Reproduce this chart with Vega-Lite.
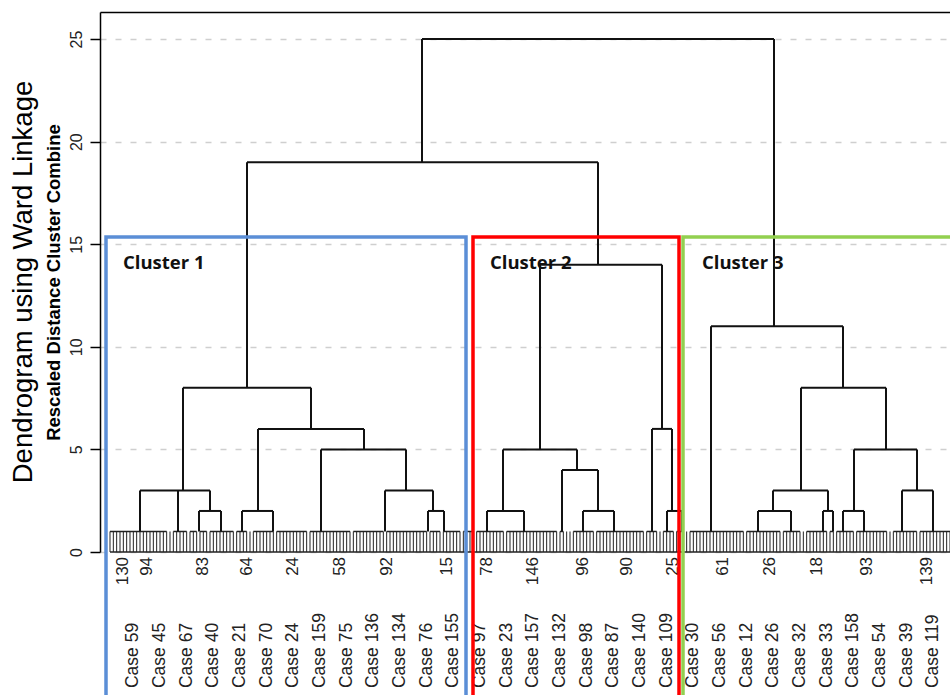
{
  "$schema": "https://vega.github.io/schema/vega-lite/v6.json",
  "autosize": "none",
  "padding": {"left": 100, "top": 12, "right": 0, "bottom": 143},
  "width": 850,
  "height": 540,
  "background": "white",
  "config": {"view": {"stroke": null}},
  "title": {"text": "Dendrogram using Ward Linkage", "orient": "left", "anchor": "middle", "font": "Liberation Sans", "fontSize": 27.5, "fontWeight": "normal", "color": "black", "offset": 7},
  "datasets": {
    "leaves": [{"x":0},{"x":1},{"x":2},{"x":3},{"x":4},{"x":5},{"x":6},{"x":7},{"x":8},{"x":9},{"x":10},{"x":11},{"x":12},{"x":13},{"x":14},{"x":15},{"x":16},{"x":17},{"x":18},{"x":19},{"x":20},{"x":21},{"x":22},{"x":23},{"x":24},{"x":25},{"x":26},{"x":27},{"x":28},{"x":29},{"x":30},{"x":31},{"x":32},{"x":33},{"x":34},{"x":35},{"x":36},{"x":37},{"x":38},{"x":39},{"x":40},{"x":41},{"x":42},{"x":43},{"x":44},{"x":45},{"x":46},{"x":47},{"x":48},{"x":49},{"x":50},{"x":51},{"x":52},{"x":53},{"x":54},{"x":55},{"x":56},{"x":57},{"x":58},{"x":59},{"x":60},{"x":61},{"x":62},{"x":63},{"x":64},{"x":65},{"x":66},{"x":67},{"x":68},{"x":69},{"x":70},{"x":71},{"x":72},{"x":73},{"x":74},{"x":75},{"x":76},{"x":77},{"x":78},{"x":79},{"x":80},{"x":81},{"x":82},{"x":83},{"x":84},{"x":85},{"x":86},{"x":87},{"x":88},{"x":89},{"x":90},{"x":91},{"x":92},{"x":93},{"x":94},{"x":95},{"x":96},{"x":97},{"x":98},{"x":99},{"x":100},{"x":101},{"x":102},{"x":103},{"x":104},{"x":105},{"x":106},{"x":107},{"x":108},{"x":109},{"x":110},{"x":111},{"x":112},{"x":113},{"x":114},{"x":115},{"x":116},{"x":117},{"x":118},{"x":119},{"x":120},{"x":121},{"x":122},{"x":123},{"x":124},{"x":125},{"x":126},{"x":127},{"x":128},{"x":129},{"x":130},{"x":131},{"x":132},{"x":133},{"x":134},{"x":135},{"x":136},{"x":137},{"x":138},{"x":139},{"x":140},{"x":141},{"x":142},{"x":143},{"x":144},{"x":145},{"x":146},{"x":147},{"x":148},{"x":149},{"x":150},{"x":151},{"x":152},{"x":153},{"x":154},{"x":155},{"x":156},{"x":157},{"x":158},{"x":159},{"x":160},{"x":161},{"x":162},{"x":163},{"x":164},{"x":165},{"x":166},{"x":167},{"x":168},{"x":169},{"x":170},{"x":171},{"x":172},{"x":173},{"x":174},{"x":175},{"x":176},{"x":177},{"x":178},{"x":179},{"x":180},{"x":181},{"x":182},{"x":183},{"x":184},{"x":185},{"x":186},{"x":187},{"x":188},{"x":189},{"x":190},{"x":191},{"x":192},{"x":193},{"x":194},{"x":195},{"x":196},{"x":197},{"x":198},{"x":199},{"x":200},{"x":201},{"x":202},{"x":203},{"x":204},{"x":205},{"x":206},{"x":207},{"x":208},{"x":209},{"x":210},{"x":211},{"x":212},{"x":213},{"x":214},{"x":215},{"x":216},{"x":217},{"x":218},{"x":219},{"x":220},{"x":221},{"x":222},{"x":223},{"x":224},{"x":225},{"x":226},{"x":227},{"x":228},{"x":229},{"x":230},{"x":231},{"x":232},{"x":233},{"x":234},{"x":235},{"x":236},{"x":237},{"x":238},{"x":239},{"x":240},{"x":241},{"x":242},{"x":243},{"x":244},{"x":245},{"x":246},{"x":247},{"x":248},{"x":249},{"x":250},{"x":251},{"x":252}],
    "comb": [
      {"x":0,"x2":17,"y":1},{"x":19,"x2":23,"y":1},{"x":24,"x2":26,"y":1},{"x":27,"x2":29,"y":1},{"x":30,"x2":37,"y":1},{"x":38,"x2":41,"y":1},{"x":43,"x2":49,"y":1},{"x":50,"x2":59,"y":1},{"x":60,"x2":72,"y":1},{"x":73,"x2":82,"y":1},{"x":83,"x2":95,"y":1},{"x":96,"x2":99,"y":1},{"x":100,"x2":105,"y":1},{"x":106,"x2":109,"y":1},{"x":110,"x2":118,"y":1},{"x":119,"x2":134,"y":1},{"x":135,"x2":136,"y":1},{"x":139,"x2":145,"y":1},{"x":146,"x2":160,"y":1},{"x":161,"x2":164,"y":1},{"x":166,"x2":169,"y":1},{"x":170,"x2":172,"y":1},{"x":174,"x2":190,"y":1},{"x":191,"x2":201,"y":1},{"x":202,"x2":207,"y":1},{"x":209,"x2":215,"y":1},{"x":216,"x2":217,"y":1},{"x":218,"x2":223,"y":1},{"x":224,"x2":233,"y":1},{"x":235,"x2":242,"y":1},{"x":243,"x2":252,"y":1},
      {"x":0,"x2":252,"y":0}
    ],
    "links": [
      {"x":93.6,"x2":199.2,"y":25,"y2":25},{"x":93.6,"x2":93.6,"y":19,"y2":25},{"x":199.2,"x2":199.2,"y":11,"y2":25},
      {"x":41.1,"x2":146.4,"y":19,"y2":19},{"x":41.1,"x2":41.1,"y":8,"y2":19},{"x":146.4,"x2":146.4,"y":14,"y2":19},
      {"x":21.9,"x2":60.3,"y":8,"y2":8},{"x":21.9,"x2":21.9,"y":3,"y2":8},{"x":60.3,"x2":60.3,"y":6,"y2":8},
      {"x":9,"x2":30,"y":3,"y2":3},{"x":9,"x2":9,"y":1,"y2":3},{"x":20.4,"x2":20.4,"y":1,"y2":3},{"x":30,"x2":30,"y":2,"y2":3},
      {"x":26.7,"x2":33.3,"y":2,"y2":2},{"x":26.7,"x2":26.7,"y":1,"y2":2},{"x":33.3,"x2":33.3,"y":1,"y2":2},
      {"x":44.4,"x2":76.2,"y":6,"y2":6},{"x":44.4,"x2":44.4,"y":2,"y2":6},{"x":39.6,"x2":48.9,"y":2,"y2":2},{"x":39.6,"x2":39.6,"y":1,"y2":2},{"x":48.9,"x2":48.9,"y":1,"y2":2},{"x":76.2,"x2":76.2,"y":5,"y2":6},
      {"x":63.3,"x2":88.8,"y":5,"y2":5},{"x":63.3,"x2":63.3,"y":1,"y2":5},{"x":88.8,"x2":88.8,"y":3,"y2":5},
      {"x":82.5,"x2":96.9,"y":3,"y2":3},{"x":82.5,"x2":82.5,"y":1,"y2":3},{"x":96.9,"x2":96.9,"y":2,"y2":3},
      {"x":95.4,"x2":100.2,"y":2,"y2":2},{"x":95.4,"x2":95.4,"y":1,"y2":2},{"x":100.2,"x2":100.2,"y":1,"y2":2},
      {"x":129,"x2":165.6,"y":14,"y2":14},{"x":129,"x2":129,"y":5,"y2":14},{"x":165.6,"x2":165.6,"y":6,"y2":14},
      {"x":117.9,"x2":140.1,"y":5,"y2":5},{"x":117.9,"x2":117.9,"y":2,"y2":5},{"x":113.1,"x2":124.2,"y":2,"y2":2},{"x":113.1,"x2":113.1,"y":1,"y2":2},{"x":124.2,"x2":124.2,"y":1,"y2":2},
      {"x":140.1,"x2":140.1,"y":4,"y2":5},{"x":135.6,"x2":146.4,"y":4,"y2":4},{"x":135.6,"x2":135.6,"y":1,"y2":4},{"x":146.4,"x2":146.4,"y":2,"y2":4},
      {"x":141.9,"x2":151.2,"y":2,"y2":2},{"x":141.9,"x2":141.9,"y":1,"y2":2},{"x":151.2,"x2":151.2,"y":1,"y2":2},
      {"x":162.6,"x2":168.6,"y":6,"y2":6},{"x":162.6,"x2":162.6,"y":1,"y2":6},{"x":168.6,"x2":168.6,"y":2,"y2":6},
      {"x":167.1,"x2":171.6,"y":2,"y2":2},{"x":167.1,"x2":167.1,"y":1,"y2":2},{"x":171.6,"x2":171.6,"y":1,"y2":2},
      {"x":180.3,"x2":219.9,"y":11,"y2":11},{"x":180.3,"x2":180.3,"y":1,"y2":11},{"x":219.9,"x2":219.9,"y":8,"y2":11},
      {"x":207.3,"x2":232.8,"y":8,"y2":8},{"x":207.3,"x2":207.3,"y":3,"y2":8},{"x":232.8,"x2":232.8,"y":5,"y2":8},
      {"x":198.9,"x2":215.4,"y":3,"y2":3},{"x":198.9,"x2":198.9,"y":2,"y2":3},{"x":194.4,"x2":204.3,"y":2,"y2":2},{"x":194.4,"x2":194.4,"y":1,"y2":2},{"x":204.3,"x2":204.3,"y":1,"y2":2},
      {"x":215.4,"x2":215.4,"y":2,"y2":3},{"x":213.9,"x2":216.9,"y":2,"y2":2},{"x":213.9,"x2":213.9,"y":1,"y2":2},{"x":216.9,"x2":216.9,"y":1,"y2":2},
      {"x":223.2,"x2":242.1,"y":5,"y2":5},{"x":223.2,"x2":223.2,"y":2,"y2":5},{"x":219.9,"x2":226.2,"y":2,"y2":2},{"x":219.9,"x2":219.9,"y":1,"y2":2},{"x":226.2,"x2":226.2,"y":1,"y2":2},
      {"x":242.1,"x2":242.1,"y":3,"y2":5},{"x":237.6,"x2":246.9,"y":3,"y2":3},{"x":237.6,"x2":237.6,"y":1,"y2":3},{"x":246.9,"x2":246.9,"y":1,"y2":3}
    ],
    "nums": [{"x":4,"label":"130"},{"x":11,"label":"94"},{"x":28,"label":"83"},{"x":41,"label":"64"},{"x":55,"label":"24"},{"x":69,"label":"58"},{"x":83,"label":"92"},{"x":101,"label":"15"},{"x":113,"label":"78"},{"x":127,"label":"146"},{"x":142,"label":"96"},{"x":155,"label":"90"},{"x":169,"label":"25"},{"x":184,"label":"61"},{"x":198,"label":"26"},{"x":212,"label":"18"},{"x":227,"label":"93"},{"x":245,"label":"139"}],
    "cases": [{"x":7,"label":"Case 59"},{"x":15,"label":"Case 45"},{"x":23,"label":"Case 67"},{"x":31,"label":"Case 40"},{"x":39,"label":"Case 21"},{"x":47,"label":"Case 70"},{"x":55,"label":"Case 24"},{"x":63,"label":"Case 159"},{"x":71,"label":"Case 75"},{"x":79,"label":"Case 136"},{"x":87,"label":"Case 134"},{"x":95,"label":"Case 76"},{"x":103,"label":"Case 155"},{"x":111,"label":"Case 97"},{"x":119,"label":"Case 23"},{"x":127,"label":"Case 157"},{"x":135,"label":"Case 132"},{"x":143,"label":"Case 98"},{"x":151,"label":"Case 87"},{"x":159,"label":"Case 140"},{"x":167,"label":"Case 109"},{"x":175,"label":"Case 30"},{"x":183,"label":"Case 56"},{"x":191,"label":"Case 12"},{"x":199,"label":"Case 26"},{"x":207,"label":"Case 32"},{"x":215,"label":"Case 33"},{"x":223,"label":"Case 158"},{"x":231,"label":"Case 54"},{"x":239,"label":"Case 39"},{"x":247,"label":"Case 119"}],
    "clusters": [{"cluster":"Cluster 1","x":-1.2,"x2":106.8,"lx":3.9},{"cluster":"Cluster 2","x":108.9,"x2":170.7,"lx":114},{"cluster":"Cluster 3","x":171.9,"x2":262,"lx":177.6}]
  },
  "layer": [
    {"data": {"name": "leaves"}, "mark": {"type": "rule", "color": "#222", "strokeWidth": 1},
      "encoding": {
        "x": {"field": "x", "type": "quantitative", "scale": {"domain": [-3, 252], "nice": false, "zero": false}},
        "y": {"datum": 0, "type": "quantitative", "scale": {"domain": [0, 26.32], "nice": false, "zero": false}},
        "y2": {"datum": 1}}},
    {"data": {"name": "comb"}, "mark": {"type": "rule", "color": "#222", "strokeWidth": 1.5},
      "encoding": {
        "x": {"field": "x", "type": "quantitative", "scale": {"domain": [-3, 252], "nice": false, "zero": false}},
        "x2": {"field": "x2"},
        "y": {"field": "y", "type": "quantitative", "scale": {"domain": [0, 26.32], "nice": false, "zero": false}}}},
    {"data": {"name": "links"}, "mark": {"type": "rule", "color": "#111", "strokeWidth": 2},
      "encoding": {
        "x": {"field": "x", "type": "quantitative", "scale": {"domain": [-3, 252], "nice": false, "zero": false},
          "axis": {"orient": "top", "title": null, "labels": false, "ticks": false, "grid": false, "domain": true, "domainColor": "black", "domainWidth": 1.5}},
        "x2": {"field": "x2"},
        "y": {"field": "y", "type": "quantitative", "scale": {"domain": [0, 26.32], "nice": false, "zero": false},
          "axis": {"title": "Rescaled Distance Cluster Combine", "titleFont": "Liberation Sans", "titleFontSize": 18.5, "titleFontWeight": "bold", "titleColor": "black", "titlePadding": 5,
            "values": [0, 5, 10, 15, 20, 25], "labelAngle": -90, "labelFont": "Liberation Sans", "labelFontSize": 16, "labelColor": "#222", "labelPadding": 6,
            "tickSize": 10, "tickColor": "black", "tickWidth": 1.5, "domainColor": "black", "domainWidth": 1.5,
            "grid": true, "gridColor": "#cfcfcf", "gridDash": [6, 9], "gridWidth": 1.5}},
        "y2": {"field": "y2"}}},
    {"data": {"name": "nums"}, "mark": {"type": "text", "angle": 270, "align": "right", "baseline": "middle", "font": "Liberation Sans", "fontSize": 17, "color": "#222"},
      "encoding": {
        "x": {"field": "x", "type": "quantitative", "scale": {"domain": [-3, 252], "nice": false, "zero": false}},
        "y": {"datum": -0.24, "type": "quantitative", "scale": {"domain": [0, 26.32], "nice": false, "zero": false}},
        "text": {"field": "label"}}},
    {"data": {"name": "cases"}, "mark": {"type": "text", "angle": 270, "align": "left", "baseline": "middle", "font": "Liberation Sans", "fontSize": 17.5, "color": "#222"},
      "encoding": {
        "x": {"field": "x", "type": "quantitative", "scale": {"domain": [-3, 252], "nice": false, "zero": false}},
        "y": {"datum": -6.63, "type": "quantitative", "scale": {"domain": [0, 26.32], "nice": false, "zero": false}},
        "text": {"field": "label"}}},
    {"data": {"name": "clusters"}, "mark": {"type": "text", "align": "left", "baseline": "alphabetic", "font": "Open Sans", "fontWeight": "bold", "fontSize": 18.5, "color": "#111"},
      "encoding": {
        "x": {"field": "lx", "type": "quantitative", "scale": {"domain": [-3, 252], "nice": false, "zero": false}},
        "y": {"datum": 13.8, "type": "quantitative", "scale": {"domain": [0, 26.32], "nice": false, "zero": false}},
        "text": {"field": "cluster"}}},
    {"data": {"name": "clusters"}, "mark": {"type": "rect", "filled": false, "strokeWidth": 3.5},
      "encoding": {
        "x": {"field": "x", "type": "quantitative", "scale": {"domain": [-3, 252], "nice": false, "zero": false}},
        "x2": {"field": "x2"},
        "y": {"datum": -7.6, "type": "quantitative", "scale": {"domain": [0, 26.32], "nice": false, "zero": false}},
        "y2": {"datum": 15.35},
        "color": {"field": "cluster", "type": "nominal", "scale": {"domain": ["Cluster 1", "Cluster 2", "Cluster 3"], "range": ["#5B8ED6", "#FF0000", "#92D050"]}, "legend": null}}}
  ]
}
